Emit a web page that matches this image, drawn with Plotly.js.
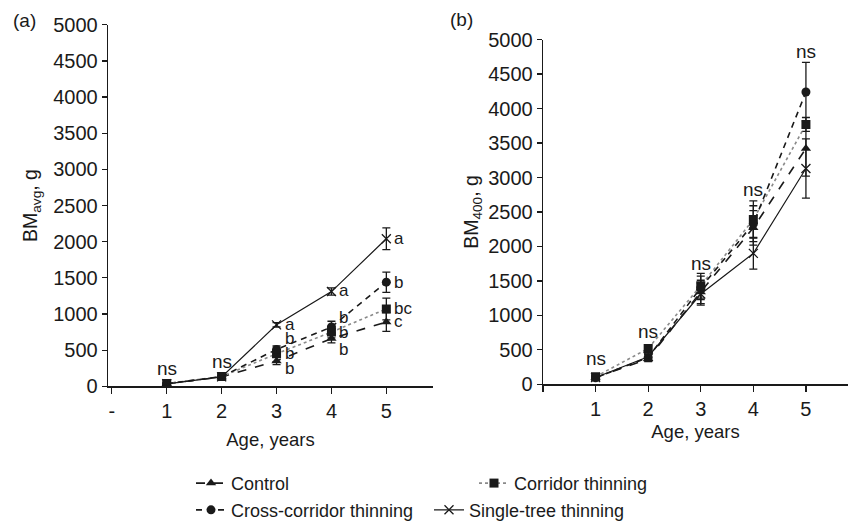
<!DOCTYPE html>
<html>
<head>
<meta charset="utf-8">
<script src="https://cdn.plot.ly/plotly-3.0.1.min.js"></script>
<style>html,body{margin:0;padding:0;background:#fff}#chart{width:848px;height:529px}</style>
</head>
<body>
<div id="chart"></div>
<script>
// ---- data ----
const ages = [1, 2, 3, 4, 5];
const tickVals = [0, 1, 2, 3, 4, 5];
const tickTextA = ["-", "1", "2", "3", "4", "5"];
const tickTextB = ["", "1", "2", "3", "4", "5"];
const seriesNames = ["Control", "Corridor thinning", "Cross-corridor thinning", "Single-tree thinning"];

// Panel (a): BM_avg, g
const controlA = [35, 130, 350, 660, 890];
const controlAErr = [10, 15, 50, 60, 130];
const corridorA = [40, 135, 450, 750, 1070];
const corridorAErr = [10, 15, 50, 80, 150];
const crossA = [35, 135, 510, 820, 1440];
const crossAErr = [10, 15, 50, 80, 140];
const singleA = [35, 130, 850, 1310, 2040];
const singleAErr = [10, 15, 30, 50, 150];

// Panel (b): BM_400, g
const controlB = [100, 370, 1340, 2270, 3420];
const controlBErr = [20, 40, 170, 250, 400];
const corridorB = [110, 520, 1430, 2390, 3770];
const corridorBErr = [20, 40, 180, 270, 100];
const crossB = [95, 390, 1400, 2330, 4240];
const crossBErr = [20, 40, 170, 260, 430];
const singleB = [100, 400, 1310, 1900, 3130];
const singleBErr = [20, 40, 160, 230, 430];

// significance letters
const lettersAX = [3, 3, 3, 3, 4, 4, 4, 4, 5, 5, 5, 5];
const lettersAY = [850, 660, 460, 240, 1330, 950, 740, 510, 2050, 1440, 1070, 890];
const lettersAText = ["a", "b", "b", "b", "a", "b", "b", "b", "a", "b", "bc", "c"];
const nsAX = [1, 2];
const nsAY = [250, 340];
const nsBX = [1, 2, 3, 4, 5];
const nsBY = [375, 760, 1750, 2830, 4830];

// ---- styles ----
const FONT = "Liberation Sans, Arial, sans-serif";
const INK = "#1a1a1a";
const styles = [
  {dash: "dash", color: INK, symbol: "triangle-up", size: 9, width: 1.6, legend: "legend"},
  {dash: "dot", color: "#8a8a8a", symbol: "square", size: 9, width: 1.6, legend: "legend", mcolor: INK},
  {dash: "6px,5px", color: INK, symbol: "circle", size: 9, width: 1.6, legend: "legend2"},
  {dash: "solid", color: INK, symbol: "x-thin-open", size: 9, width: 1.2, legend: "legend2"}
];
const dataA = [[controlA, controlAErr], [corridorA, corridorAErr], [crossA, crossAErr], [singleA, singleAErr]];
const dataB = [[controlB, controlBErr], [corridorB, corridorBErr], [crossB, crossBErr], [singleB, singleBErr]];

const traces = [];
function mk(i, d, xa, ya, showlegend) {
  const s = styles[i];
  return {
    type: "scatter", mode: "lines+markers", name: seriesNames[i],
    x: ages, y: d[0], xaxis: xa, yaxis: ya,
    showlegend: showlegend, legend: s.legend,
    line: {dash: s.dash, color: s.color, width: s.width},
    marker: {symbol: s.symbol, size: s.size, color: s.mcolor || INK,
             line: {color: INK, width: s.symbol === "x-thin-open" ? 1.3 : 0}},
    error_y: {type: "data", array: d[1], visible: true, color: INK, thickness: 1.3, width: 4}
  };
}
for (let i = 0; i < 4; i++) traces.push(mk(i, dataA[i], "x", "y", true));
for (let i = 0; i < 4; i++) traces.push(mk(i, dataB[i], "x2", "y2", false));

const annotations = [];
const annFont = {family: FONT, size: 19, color: INK};
const letterFont = {family: FONT, size: 17, color: INK};
for (let k = 0; k < lettersAText.length; k++) {
  annotations.push({xref: "x", yref: "y", x: lettersAX[k], y: lettersAY[k], text: lettersAText[k],
    showarrow: false, xanchor: "left", yanchor: "middle", xshift: 6, font: letterFont});
}
for (let k = 0; k < nsAX.length; k++) {
  annotations.push({xref: "x", yref: "y", x: nsAX[k], y: nsAY[k], text: "ns",
    showarrow: false, xanchor: "center", yanchor: "middle", font: annFont});
}
for (let k = 0; k < nsBX.length; k++) {
  annotations.push({xref: "x2", yref: "y2", x: nsBX[k], y: nsBY[k], text: "ns",
    showarrow: false, xanchor: "center", yanchor: "middle", font: annFont});
}
annotations.push({xref: "paper", yref: "paper", x: 24 / 848, y: 1 - 21 / 529, text: "(a)",
  showarrow: false, xanchor: "center", yanchor: "middle", font: annFont});
annotations.push({xref: "paper", yref: "paper", x: 462 / 848, y: 1 - 20 / 529, text: "(b)",
  showarrow: false, xanchor: "center", yanchor: "middle", font: annFont});

const tickFont = {family: FONT, size: 20, color: INK};
function yax(domain, title, standoff) {
  return {domain: domain, range: [0, 5000], dtick: 500, tick0: 0,
    showgrid: false, zeroline: false, showline: true, linecolor: INK, linewidth: 1.3,
    ticks: "outside", ticklen: 5, tickcolor: INK, tickwidth: 1.2, tickfont: tickFont,
    automargin: false,
    title: {text: title, font: {family: FONT, size: 19.5, color: INK}, standoff: standoff}};
}
function xax(domain, range, ticktext, anchor, standoff) {
  return {domain: domain, range: range, tickvals: tickVals, ticktext: ticktext, anchor: anchor,
    showgrid: false, zeroline: false, showline: true, linecolor: INK, linewidth: 1.3,
    ticks: "outside", ticklen: 6, tickcolor: INK, tickwidth: 1.2, tickfont: tickFont,
    automargin: false,
    title: {text: "Age, years", font: {family: FONT, size: 18.5, color: INK}, standoff: standoff}};
}

const layout = {
  width: 848, height: 529,
  margin: {l: 0, r: 0, t: 0, b: 0},
  paper_bgcolor: "#fff", plot_bgcolor: "rgba(0,0,0,0)",
  font: {family: FONT, color: INK},
  xaxis: xax([108 / 848, 433 / 848], [-0.07, 5.85], tickTextA, "y", 12),
  yaxis: yax([(529 - 390) / 529, (529 - 25) / 529], "BM<sub>avg</sub>, g", 10),
  xaxis2: xax([543 / 848, 1.0], [0, 5.8], tickTextB, "y2", 6),
  yaxis2: Object.assign(yax([(529 - 388) / 529, (529 - 40) / 529], "BM<sub>400</sub>, g", 4), {anchor: "x2"}),
  legend: {orientation: "h", x: 191 / 848, y: (529 - 488) / 529, xanchor: "left", yanchor: "middle",
    entrywidth: 238, font: {family: FONT, size: 18, color: INK}, bgcolor: "rgba(0,0,0,0)", tracegroupgap: 0},
  legend2: {orientation: "h", x: 191 / 848, y: (529 - 515) / 529, xanchor: "left", yanchor: "middle",
    entrywidth: 193, font: {family: FONT, size: 18, color: INK}, bgcolor: "rgba(0,0,0,0)"},
  annotations: annotations,
  showlegend: true
};
layout.yaxis.anchor = "x";

Plotly.newPlot("chart", traces, layout, {staticPlot: true, displayModeBar: false});
</script>
</body>
</html>
